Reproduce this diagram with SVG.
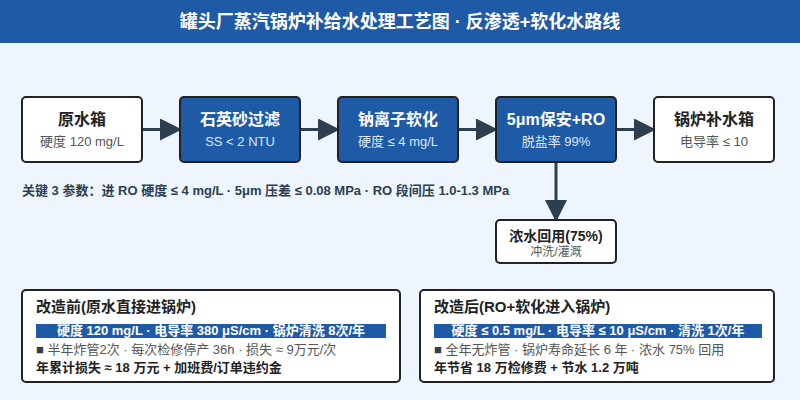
<svg xmlns="http://www.w3.org/2000/svg" width="800" height="400" viewBox="0 0 800 400">
<defs>
<marker id="ah" markerWidth="22" markerHeight="22" refX="20" refY="11" orient="auto" markerUnits="userSpaceOnUse">
<path d="M0,0 L22,11 L0,22 Z" fill="#2c3e50"/>
</marker>
<style>
text{font-family:"Liberation Sans","Noto Sans CJK SC",sans-serif}
.box{stroke:#222;stroke-width:2}
.w{fill:#fff}
.b{fill:#1f5aa6}
.t{font-size:16px;font-weight:bold;text-anchor:middle}
.s{font-size:13px;text-anchor:middle}
.tw{fill:#fff}
.sw{fill:#dde8f6}
.td{fill:#222}
.sd{fill:#555}
.conn{stroke:#2c3e50;stroke-width:3;fill:none}
.ct{font-size:15px;font-weight:bold;fill:#222}
.bar{fill:#1f5aa6}
.bt{font-size:13px;font-weight:bold;fill:#fff;text-anchor:middle}
.l3{font-size:13px;fill:#555}
.l4{font-size:13px;font-weight:bold;fill:#222}
</style>
</defs>
<rect width="800" height="400" fill="#eef5fe"/>
<rect width="800" height="43" fill="#1f5aa6"/>
<text x="400" y="28" text-anchor="middle" font-size="18" font-weight="bold" fill="#fff">罐头厂蒸汽锅炉补给水处理工艺图 · 反渗透+软化水路线</text>

<g id="connectors">
<line class="conn" x1="142" y1="129.5" x2="180" y2="129.5" marker-end="url(#ah)"/>
<line class="conn" x1="300" y1="129.5" x2="338" y2="129.5" marker-end="url(#ah)"/>
<line class="conn" x1="458" y1="129.5" x2="496" y2="129.5" marker-end="url(#ah)"/>
<line class="conn" x1="616" y1="129.5" x2="654" y2="129.5" marker-end="url(#ah)"/>
<line class="conn" x1="556" y1="162" x2="556" y2="220" marker-end="url(#ah)"/>
</g>

<g id="n1">
<rect class="box w" x="22" y="97" width="120" height="65" rx="4"/>
<text class="t td" x="82" y="125">原水箱</text>
<text class="s sd" x="82" y="146">硬度 120 mg/L</text>
</g>
<g id="n2">
<rect class="box b" x="180" y="97" width="120" height="65" rx="4"/>
<text class="t tw" x="240" y="125">石英砂过滤</text>
<text class="s sw" x="240" y="146">SS &lt; 2 NTU</text>
</g>
<g id="n3">
<rect class="box b" x="338" y="97" width="120" height="65" rx="4"/>
<text class="t tw" x="398" y="125">钠离子软化</text>
<text class="s sw" x="398" y="146">硬度 ≤ 4 mg/L</text>
</g>
<g id="n4">
<rect class="box b" x="496" y="97" width="120" height="65" rx="4"/>
<text class="t tw" x="556" y="125">5μm保安+RO</text>
<text class="s sw" x="556" y="146">脱盐率 99%</text>
</g>
<g id="n5">
<rect class="box w" x="654" y="97" width="120" height="65" rx="4"/>
<text class="t td" x="714" y="125">锅炉补水箱</text>
<text class="s sd" x="714" y="146">电导率 ≤ 10</text>
</g>
<g id="n6">
<rect class="box w" x="496" y="220" width="120" height="43" rx="4"/>
<text class="t td" x="556" y="241" style="font-size:14px">浓水回用(75%)</text>
<text class="s sd" x="556" y="256" style="font-size:12px">冲洗/灌溉</text>
</g>

<text x="22" y="195" font-size="13" font-weight="bold" fill="#2c3e50">关键 3 参数：进 RO 硬度 ≤ 4 mg/L · 5μm 压差 ≤ 0.08 MPa · RO 段间压 1.0-1.3 MPa</text>

<g id="before">
<rect class="box w" x="22" y="290" width="378" height="92" rx="4"/>
<text class="ct" x="36" y="312">改造前(原水直接进锅炉)</text>
<rect class="bar" x="36" y="324" width="350" height="14"/>
<text class="bt" x="211" y="335">硬度 120 mg/L · 电导率 380 μS/cm · 锅炉清洗 8次/年</text>
<text class="l3" x="36" y="354"><tspan fill="#2c3e50">■</tspan> 半年炸管2次 · 每次检修停产 36h · 损失 ≈ 9万元/次</text>
<text class="l4" x="36" y="372">年累计损失 ≈ 18 万元 + 加班费/订单违约金</text>
</g>
<g id="after">
<rect class="box w" x="420" y="290" width="354" height="92" rx="4"/>
<text class="ct" x="434" y="312">改造后(RO+软化进入锅炉)</text>
<rect class="bar" x="434" y="324" width="328" height="14"/>
<text class="bt" x="598" y="335">硬度 ≤ 0.5 mg/L · 电导率 ≤ 10 μS/cm · 清洗 1次/年</text>
<text class="l3" x="434" y="354"><tspan fill="#2c3e50">■</tspan> 全年无炸管 · 锅炉寿命延长 6 年 · 浓水 75% 回用</text>
<text class="l4" x="434" y="372">年节省 18 万检修费 + 节水 1.2 万吨</text>
</g>
</svg>
